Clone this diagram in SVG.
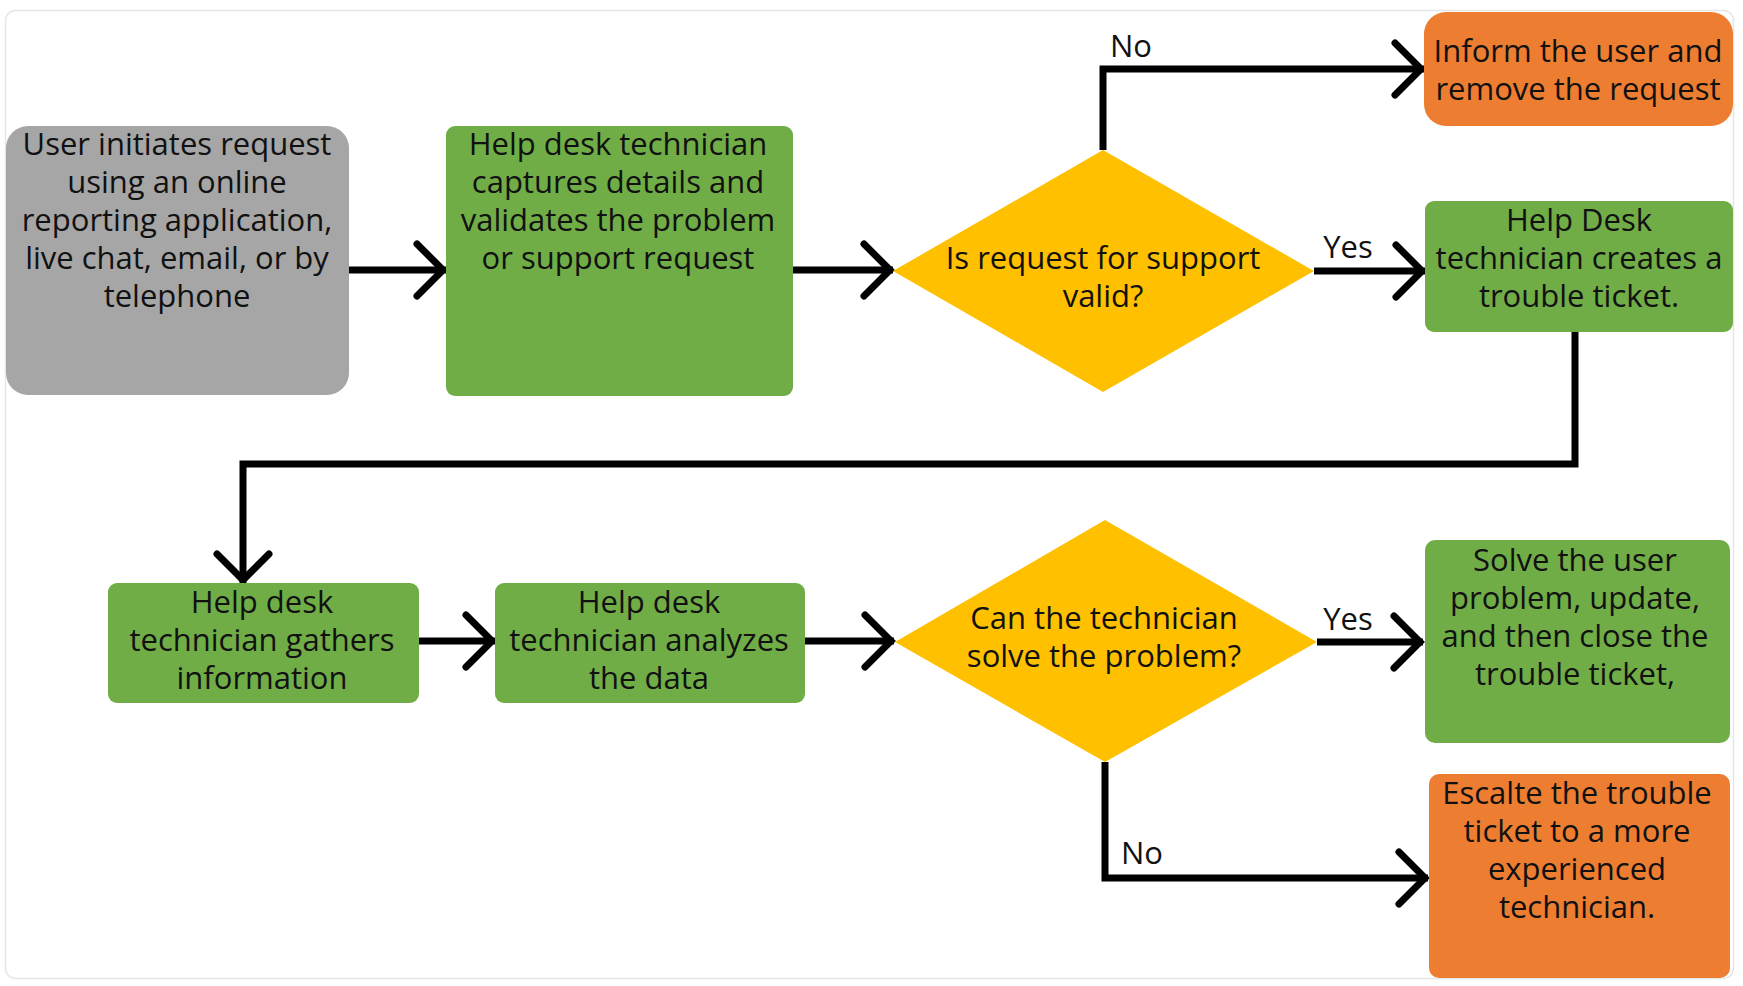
<svg xmlns="http://www.w3.org/2000/svg" width="1743" height="986" viewBox="0 0 1743 986">
<defs>
<style>
.t{font-family:"Open Sans","Liberation Sans",sans-serif;font-size:31px;fill:#111;text-anchor:middle}
.green{fill:#70AD47}
.orange{fill:#ED7D31}
.gray{fill:#A6A6A6}
.dia{fill:#FFC000}
.c{fill:none;stroke:#000;stroke-width:7;stroke-linejoin:miter;marker-end:url(#arr)}
</style>
<marker id="arr" markerUnits="userSpaceOnUse" markerWidth="44" markerHeight="64" viewBox="-40 -32 44 64" refX="0" refY="0" orient="auto" overflow="visible">
<path d="M-29,-26 L-3,0 L-29,26" fill="none" stroke="#000" stroke-width="7" stroke-linecap="round" stroke-linejoin="miter"/>
</marker>
</defs>
<rect x="0" y="0" width="1743" height="986" fill="#fff"/>
<rect x="5.5" y="10.5" width="1728" height="968" rx="10" fill="#fff" stroke="#e6e6e6" stroke-width="1.5"/>

<g id="connectors">
<path class="c" d="M349,270 H446"/>
<path class="c" d="M793,270 H893"/>
<path class="c" d="M1103,150 V69 H1424"/>
<path class="c" d="M1314,271 H1425"/>
<path class="c" d="M1575,332 V464 H243 V583"/>
<path class="c" d="M419,641 H495"/>
<path class="c" d="M805,641 H894"/>
<path class="c" d="M1317,642 H1423"/>
<path class="c" d="M1105,762 V878 H1428"/>
<text class="t" x="1131" y="57">No</text>
<text class="t" x="1348" y="258">Yes</text>
<text class="t" x="1348" y="630">Yes</text>
<text class="t" x="1142" y="864">No</text>
</g>

<g id="user-request">
<rect class="gray" x="6" y="126" width="343" height="269" rx="22"/>
<text class="t" x="177"><tspan x="177" y="155">User initiates request</tspan><tspan x="177" y="193">using an online</tspan><tspan x="177" y="231">reporting application,</tspan><tspan x="177" y="269">live chat, email, or by</tspan><tspan x="177" y="307">telephone</tspan></text>
</g>

<g id="capture-details">
<rect class="green" x="446" y="126" width="347" height="270" rx="9"/>
<text class="t"><tspan x="618" y="155">Help desk technician</tspan><tspan x="618" y="193">captures details and</tspan><tspan x="618" y="231">validates the problem</tspan><tspan x="618" y="269">or support request</tspan></text>
</g>

<g id="valid-decision">
<polygon class="dia" points="1103,150 1314,271 1103,392 893,271"/>
<text class="t"><tspan x="1103" y="269">Is request for support</tspan><tspan x="1103" y="307">valid?</tspan></text>
</g>

<g id="inform-user">
<rect class="orange" x="1424" y="12" width="309" height="114" rx="22"/>
<text class="t"><tspan x="1578" y="62">Inform the user and</tspan><tspan x="1578" y="100">remove the request</tspan></text>
</g>

<g id="create-ticket">
<rect class="green" x="1425" y="201" width="308" height="131" rx="9"/>
<text class="t"><tspan x="1579" y="231">Help Desk</tspan><tspan x="1579" y="269">technician creates a</tspan><tspan x="1579" y="307">trouble ticket.</tspan></text>
</g>

<g id="gather-info">
<rect class="green" x="108" y="583" width="311" height="120" rx="9"/>
<text class="t"><tspan x="262" y="613">Help desk</tspan><tspan x="262" y="651">technician gathers</tspan><tspan x="262" y="689">information</tspan></text>
</g>

<g id="analyze-data">
<rect class="green" x="495" y="583" width="310" height="120" rx="9"/>
<text class="t"><tspan x="649" y="613">Help desk</tspan><tspan x="649" y="651">technician analyzes</tspan><tspan x="649" y="689">the data</tspan></text>
</g>

<g id="solve-decision">
<polygon class="dia" points="1105,520 1317,642 1105,762 895,642"/>
<text class="t"><tspan x="1104" y="629">Can the technician</tspan><tspan x="1104" y="667">solve the problem?</tspan></text>
</g>

<g id="solve-close">
<rect class="green" x="1425" y="540" width="305" height="203" rx="10"/>
<text class="t"><tspan x="1575" y="571">Solve the user</tspan><tspan x="1575" y="609">problem, update,</tspan><tspan x="1575" y="647">and then close the</tspan><tspan x="1575" y="685">trouble ticket,</tspan></text>
</g>

<g id="escalate">
<rect class="orange" x="1429" y="774" width="301" height="204" rx="10"/>
<text class="t"><tspan x="1577" y="804">Escalte the trouble</tspan><tspan x="1577" y="842">ticket to a more</tspan><tspan x="1577" y="880">experienced</tspan><tspan x="1577" y="918">technician.</tspan></text>
</g>
</svg>
